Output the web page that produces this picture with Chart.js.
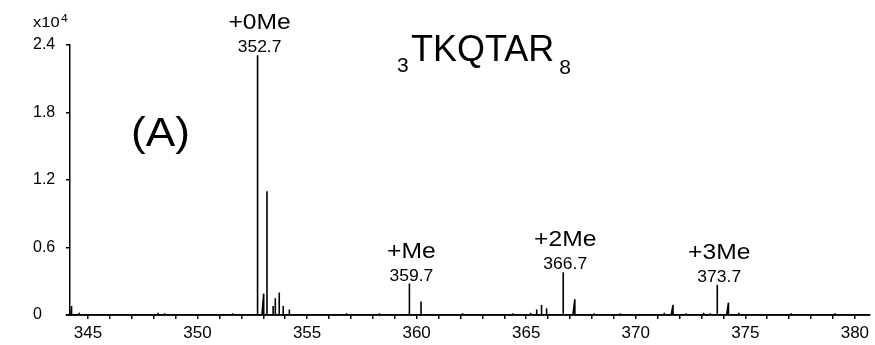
<!DOCTYPE html>
<html>
<head>
<meta charset="utf-8">
<script src="https://cdn.jsdelivr.net/npm/chart.js@4/dist/chart.umd.min.js"></script>
<style>
  html, body { margin: 0; padding: 0; background: #fff; }
  #wrap { width: 875px; height: 345px; }
</style>
</head>
<body>
<div id="wrap"><canvas id="spectrum" width="875" height="345"></canvas></div>
<script>
// --- Spectrum data (intensity in units of 10^4) ---
const peakMz        = [344.25, 352.74, 353.02, 353.17, 353.45, 353.55, 353.73, 353.91, 354.19, 359.67, 360.20, 365.48, 365.70, 365.93, 366.69, 367.22, 371.70, 373.72, 374.23];
const peakOnset     = [344.22, 352.74, 352.94, 353.17, 353.45, 353.55, 353.73, 353.91, 354.19, 359.67, 360.20, 365.48, 365.70, 365.93, 366.69, 367.13, 371.62, 373.72, 374.15];
const peakIntensity = [0.08,   2.31,   0.19,   1.10,   0.08,   0.15,   0.20,   0.08,   0.05,   0.28,   0.12,   0.05,   0.09,   0.06,   0.38,   0.14,   0.09,   0.27,   0.11];

// small baseline noise
const noiseMz        = [344.6, 345.3, 346.1, 347.4, 348.2, 348.5, 348.8, 349.3, 350.7, 351.6, 355.4, 356.1, 356.8, 358.3, 358.7, 361.4, 362.1, 362.9, 363.7, 364.4, 364.9, 365.2, 368.1, 368.7, 369.3, 370.9, 371.3, 372.3, 372.7, 373.1, 373.4, 374.7, 375.6, 376.4, 377.1, 377.7, 378.4, 379.1, 379.8];
const noiseIntensity = [0.02,  0.01,  0.01,  0.01,  0.02,  0.015, 0.01,  0.01,  0.01,  0.015, 0.01,  0.01,  0.015, 0.015, 0.01,  0.01,  0.015, 0.01,  0.01,  0.015, 0.01,  0.02,  0.015, 0.01,  0.015, 0.01,  0.02,  0.015, 0.01,  0.02,  0.015, 0.02,  0.01,  0.01,  0.015, 0.01,  0.01,  0.015, 0.01];

// labelled peaks
const labelMz   = [352.7, 359.7, 366.7, 373.7];
const labelTags = ["+0Me", "+Me", "+2Me", "+3Me"];

// axes
const xRange = [344.18, 380.69];
const yTicks = [0, 0.6, 1.2, 1.8, 2.4];

const FONT = "'Liberation Sans', Arial, sans-serif";

// --- Build profile line from peaks ---
function buildProfile() {
  const items = [];
  peakMz.forEach((mz, i) => items.push({ onset: peakOnset[i], mz, h: peakIntensity[i] }));
  noiseMz.forEach((mz, i) => items.push({ onset: mz, mz, h: noiseIntensity[i] }));
  items.sort((a, b) => a.mz - b.mz);

  const pts = [{ x: xRange[0] - 0.2, y: 0 }];
  items.forEach(p => {
    pts.push({ x: p.onset, y: 0 });
    pts.push({ x: p.mz, y: p.h });
    pts.push({ x: p.mz, y: 0 });
  });
  pts.push({ x: xRange[1], y: 0 });
  return pts;
}

// draw text stretched horizontally
function stretchText(ctx, text, x, y, font, sx, align) {
  ctx.save();
  ctx.font = font;
  ctx.textAlign = align || "left";
  ctx.textBaseline = "alphabetic";
  ctx.translate(x, y);
  ctx.scale(sx, 1);
  ctx.fillText(text, 0, 0);
  ctx.restore();
}

// --- Annotation plugin ---
const annotations = {
  id: "annotations",
  afterDraw(chart) {
    const ctx = chart.ctx;
    const xs = chart.scales.x, ys = chart.scales.y;
    ctx.save();
    ctx.fillStyle = "#000";

    // y unit label  x10^4
    stretchText(ctx, "x10", 33, 27, "15px " + FONT, 1.1);
    stretchText(ctx, "4", 61, 22, "11px " + FONT, 1.1);

    // title  3TKQTAR8
    ctx.font = "21px " + FONT;
    ctx.textAlign = "left";
    ctx.fillText("3", 397, 72);
    ctx.font = "36px " + FONT;
    ctx.fillText("TKQTAR", 411, 61);
    const w = ctx.measureText("TKQTAR").width;
    ctx.font = "21px " + FONT;
    ctx.fillText("8", 411 + w + 5, 74);

    // panel label
    stretchText(ctx, "(A)", 131, 146, "41px " + FONT, 1.08);

    // peak labels
    labelMz.forEach((mz, i) => {
      // find the drawn peak nearest this m/z
      let best = 0;
      peakMz.forEach((p, j) => { if (Math.abs(p - mz) < Math.abs(peakMz[best] - mz)) best = j; });
      const px = xs.getPixelForValue(peakMz[best]) + 2;
      const top = ys.getPixelForValue(peakIntensity[best]);
      stretchText(ctx, mz.toFixed(1), px, top - 3, "17px " + FONT, 1.03, "center");
      stretchText(ctx, labelTags[i], px, top - 26, "22px " + FONT, 1.12, "center");
    });
    ctx.restore();
  }
};

// --- Chart ---
const ctx = document.getElementById("spectrum").getContext("2d");
new Chart(ctx, {
  type: "scatter",
  data: {
    datasets: [{
      data: buildProfile(),
      showLine: true,
      borderColor: "#000",
      borderWidth: 1.6,
      pointRadius: 0,
      tension: 0,
      clip: false
    }]
  },
  options: {
    responsive: false,
    animation: false,
    layout: { padding: { left: 33, top: 45, right: 5, bottom: 0 } },
    plugins: { legend: { display: false }, tooltip: { enabled: false } },
    scales: {
      x: {
        type: "linear",
        min: xRange[0],
        max: xRange[1],
        border: { color: "#000", width: 1.5 },
        grid: { drawOnChartArea: false, drawTicks: true, tickLength: 4, color: "#000", lineWidth: 1.5 },
        ticks: {
          stepSize: 1,
          includeBounds: false,
          autoSkip: false,
          maxRotation: 0,
          padding: 4,
          color: "#000",
          font: { family: FONT, size: 17 },
          callback: v => (Math.round(v) % 5 === 0 ? String(Math.round(v)) : "")
        },
        afterFit: s => { s.height = 30; }
      },
      y: {
        min: 0,
        max: yTicks[yTicks.length - 1],
        border: { color: "#000", width: 1.5 },
        grid: { drawOnChartArea: false, drawTicks: true, tickLength: 4, color: "#000", lineWidth: 1.5 },
        afterBuildTicks: s => { s.ticks = yTicks.map(v => ({ value: v })); },
        ticks: {
          crossAlign: "far",
          color: "#000",
          font: { family: FONT, size: 16 },
          callback: v => (v === 0 ? "0" : v.toFixed(1))
        },
        afterFit: s => { s.width = 37; }
      }
    }
  },
  plugins: [annotations]
});
</script>
</body>
</html>
